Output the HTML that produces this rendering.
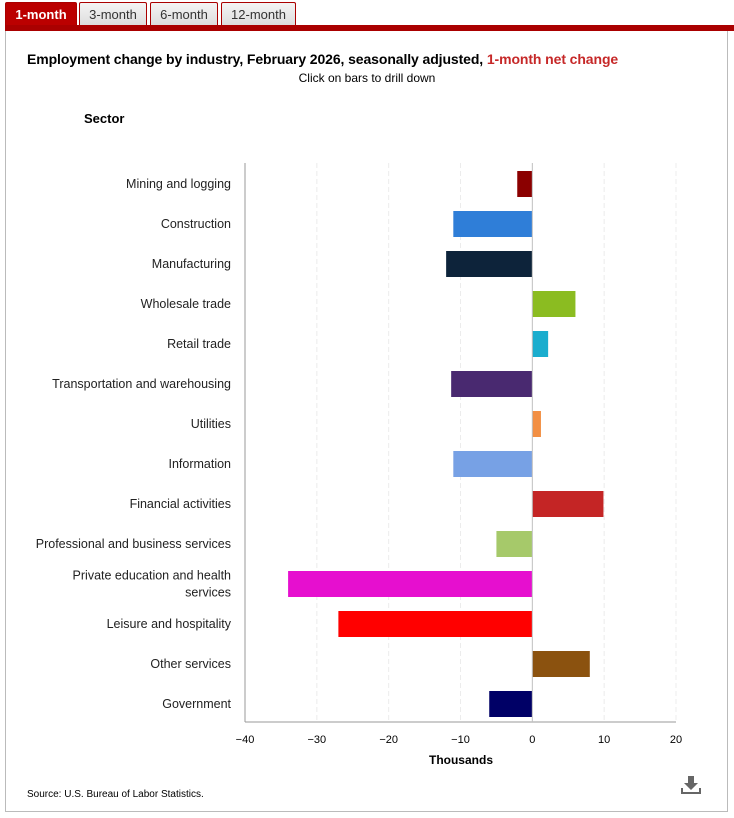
<!DOCTYPE html>
<html><head><meta charset="utf-8"><style>
body{margin:0;width:734px;height:818px;background:#fff;font-family:"Liberation Sans",Arial,sans-serif;position:relative;overflow:hidden}
.tab{position:absolute;top:2px;height:23px;border:1px solid #a00;border-bottom:none;background:linear-gradient(#f4f4f4,#ddd);font-size:13px;color:#333;text-align:center;line-height:24px;box-sizing:border-box;border-radius:2px 2px 0 0}
.tab.on{background:#b00;color:#fff;font-weight:bold}
</style></head><body>
<div class="tab on" style="left:5px;width:72px">1-month</div>
<div class="tab" style="left:79px;width:68px">3-month</div>
<div class="tab" style="left:150px;width:68px">6-month</div>
<div class="tab" style="left:221px;width:75px">12-month</div>
<div style="position:absolute;left:5px;top:25px;width:729px;height:6px;background:#a00"></div>
<div style="position:absolute;left:5px;top:31px;width:721px;height:780px;border:1px solid #bbb;border-top:none"></div>
<div style="position:absolute;left:27px;top:51px;font-size:14px;font-weight:bold;color:#000;letter-spacing:-0.1px">Employment change by industry, February 2026, seasonally adjusted, <span style="color:#c62828">1-month net change</span></div>
<div style="position:absolute;left:0;width:734px;text-align:center;top:71px;font-size:12px">Click on bars to drill down</div>
<div style="position:absolute;left:84px;top:111px;font-size:13px;font-weight:bold">Sector</div>
<svg id="c" width="734" height="818" style="position:absolute;left:0;top:0"></svg>
<div style="position:absolute;left:27px;top:789px;font-size:10px">Source: U.S. Bureau of Labor Statistics.</div>
<svg style="position:absolute;left:680px;top:774px" width="22" height="22"><path d="M8 2h6v7h4l-7 7-7-7h4z" fill="#666"/><path d="M2 14v5h18v-5" stroke="#666" stroke-width="2" fill="none"/></svg>
<script>
const categories=["Mining and logging","Construction","Manufacturing","Wholesale trade","Retail trade","Transportation and warehousing","Utilities","Information","Financial activities","Professional and business services","Private education and health|services","Leisure and hospitality","Other services","Government"];
const values=[-2.1,-11,-12,6,2.2,-11.3,1.2,-11,9.9,-5,-34,-27,8,-6];
const colors=["#8b0000","#2f7ed8","#0d233a","#8bbc21","#1aadce","#492970","#f28f43","#77a1e5","#c42525","#a6c96a","#e60fcf","#ff0000","#8b520f","#000066"];
const ticks=[-40,-30,-20,-10,0,10,20];
const NS="http://www.w3.org/2000/svg",svg=document.getElementById('c');
const x=v=>245+(v+40)*(431/60), top0=164, band=40;
const y=i=>top0+i*band;
function mk(t,a,txt){const e=document.createElementNS(NS,t);for(const k in a)e.setAttribute(k,a[k]);if(txt!=null)e.textContent=txt;svg.appendChild(e);return e;}
ticks.forEach(t=>{
 if(t!==0&&t!==-40){const g=mk('line',{x1:x(t),x2:x(t),y1:163,y2:722,stroke:'#ececec','stroke-dasharray':'5,3'});
 
 }
 const l=mk('text',{x:x(t),y:743,'text-anchor':'middle','font-size':11,fill:'#000'},t<0?'\u2212'+(-t):t);
 
 
});
mk('line',{x1:245,x2:245,y1:163,y2:722,stroke:'#999'});
mk('line',{x1:245,x2:676,y1:722,y2:722,stroke:'#999'});
categories.forEach((c,i)=>{
 const v=values[i],x0=x(Math.min(0,v)),w=Math.abs(x(v)-x(0));
 const r=mk('rect',{x:x0,y:y(i)+7,width:w,height:26,fill:colors[i]});
 
 
 const parts=c.split('|');
 parts.forEach((p,j)=>{
  const ty=y(i)+20+4+(parts.length>1?(j?8.5:-8.5):0);
  const t=mk('text',{x:231,y:ty,'text-anchor':'end','font-size':12.5,fill:'#222'},p);
  
  
 });
});
mk('line',{x1:x(0),x2:x(0),y1:163,y2:722,stroke:'#c0c0c0'});
const xt=mk('text',{x:461,y:764,'text-anchor':'middle','font-size':12,'font-weight':'bold'},'Thousands');


</script>
</body></html>
